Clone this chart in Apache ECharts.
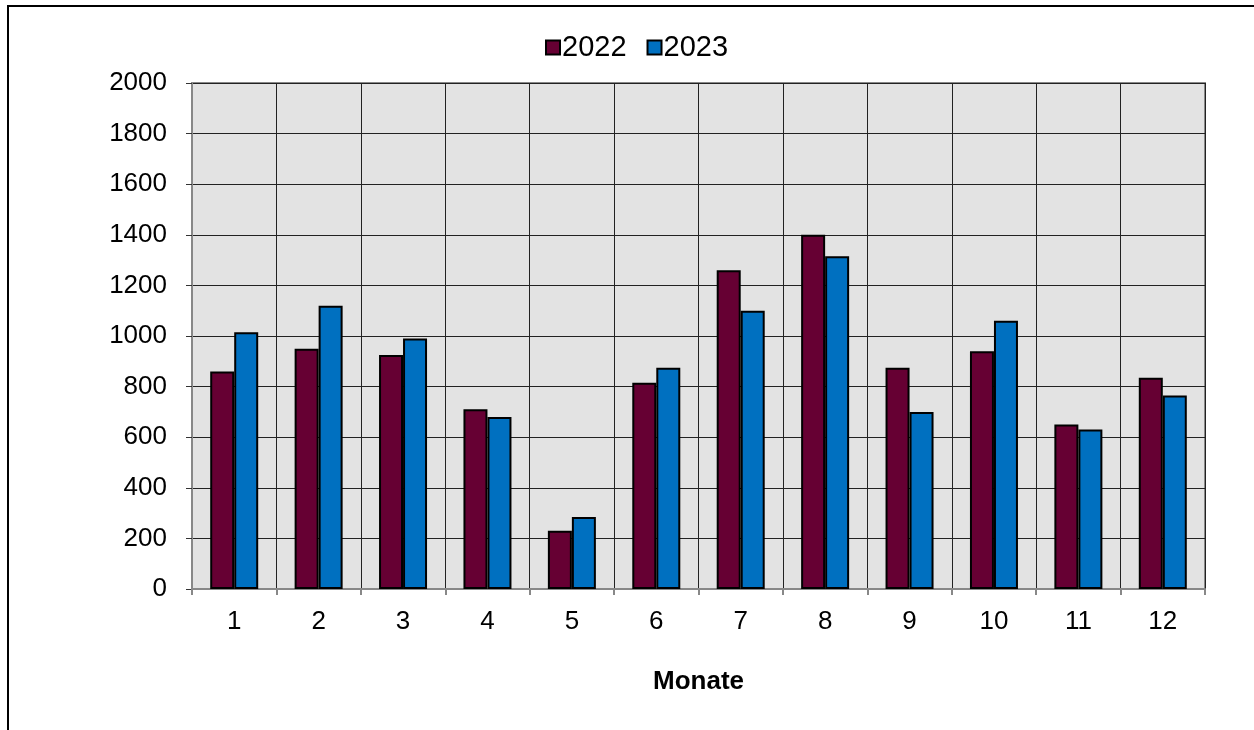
<!DOCTYPE html>
<html>
<head>
<meta charset="utf-8">
<script src="https://cdn.jsdelivr.net/npm/echarts@6/dist/echarts.min.js"></script>
<style>html,body{margin:0;padding:0;background:#fff;}#c{width:1254px;height:730px;}</style>
</head>
<body>
<div id="c"></div>
<script>
const months = ['1','2','3','4','5','6','7','8','9','10','11','12'];
const values2022 = [860, 950, 925, 710, 230, 815, 1260, 1400, 875, 940, 650, 835];
const values2023 = [1015, 1120, 990, 680, 285, 875, 1100, 1315, 700, 1060, 630, 765];
const seriesNames = ['2022', '2023'];
const xTitle = 'Monate';

const chart = echarts.init(document.getElementById('c'));
const font = 'Liberation Sans, Arial, sans-serif';
chart.setOption({
  animation: false,
  textStyle: { fontFamily: font },
  graphic: [{
    type: 'rect', silent: true,
    shape: { x: 8, y: 6, width: 1400, height: 900 },
    style: { fill: 'none', stroke: '#000', lineWidth: 2 }
  }],
  legend: {
    top: 28, left: 540,
    itemWidth: 14, itemHeight: 14, itemGap: 20,
    textStyle: { fontSize: 29, color: '#000', fontFamily: font, padding: [0, 0, 0, -3] },
    data: seriesNames.map(n => ({ name: n, icon: 'rect', itemStyle: { borderColor: '#000', borderWidth: 2 } }))
  },
  grid: {
    left: 192, right: 49, top: 83, bottom: 141,
    show: true, backgroundColor: '#e3e3e3', borderColor: '#888', borderWidth: 2
  },
  xAxis: {
    type: 'category', data: months,
    name: xTitle, nameLocation: 'middle', nameGap: 80,
    nameTextStyle: { fontSize: 26, fontWeight: 'bold', color: '#000', fontFamily: font },
    axisLine: { lineStyle: { color: '#888', width: 2 } },
    axisTick: { show: true, length: 6, lineStyle: { color: '#888', width: 2 } },
    axisLabel: { fontSize: 26, color: '#000', margin: 20 },
    splitLine: { show: true, lineStyle: { color: '#222', width: 1 } }
  },
  yAxis: {
    type: 'value', min: 0, max: 2000, interval: 200,
    axisLine: { show: true, lineStyle: { color: '#888', width: 2 } },
    axisTick: { show: true, length: 6, lineStyle: { color: '#333', width: 1 } },
    axisLabel: { fontSize: 26, color: '#000', margin: 25, formatter: v => String(v) },
    splitLine: { show: true, lineStyle: { color: '#222', width: 1 } }
  },
  series: [
    {
      name: seriesNames[0], type: 'bar', data: values2022,
      barWidth: 24, barGap: '0%',
      itemStyle: { color: '#660033', borderColor: '#000', borderWidth: 2 }
    },
    {
      name: seriesNames[1], type: 'bar', data: values2023,
      barWidth: 24, barGap: '0%',
      itemStyle: { color: '#0070c0', borderColor: '#000', borderWidth: 2 }
    }
  ]
});
</script>
</body>
</html>
